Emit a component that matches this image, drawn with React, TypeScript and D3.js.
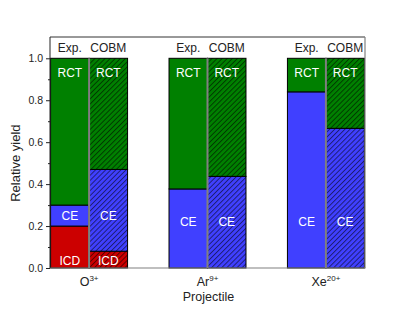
import { useEffect, useRef } from 'react';
import * as d3 from 'd3';

// projectiles and the two bar types
const projectiles = ['O', 'Ar', 'Xe'];
const charges = ['3+', '9+', '20+'];
const barTypes = ['Exp.', 'COBM'];

// channel yields, index follows projectiles
const expICD = [0.2, 0, 0];
const expCE = [0.1, 0.377, 0.84];
const expRCT = [0.7, 0.623, 0.16];
const cobmICD = [0.08, 0, 0];
const cobmCE = [0.39, 0.437, 0.666];
const cobmRCT = [0.53, 0.563, 0.334];

const channels = ['ICD', 'CE', 'RCT'];
const channelColors = ['#cc0000', '#4040ff', '#008000'];

// where the channel names sit (in yield units)
const labelPosICD = [0.035, 0, 0];
const labelPosCE = [0.25, 0.22, 0.22];
const labelPosRCT = [0.93, 0.93, 0.93];

const yTicks = [0, 0.2, 0.4, 0.6, 0.8, 1.0];
const yMinorTicks = [0.1, 0.3, 0.5, 0.7, 0.9];

const App = () => {
  const svgRef = useRef<SVGSVGElement>(null);

  useEffect(() => {
    const svg = d3.select(svgRef.current);
    svg.selectAll('*').remove();

    const width = 415;
    const height = 312;
    const left = 50, right = 365, top = 37, bottom = 268, yTop = 58.3;
    const font = '"Liberation Sans", Arial, sans-serif';

    svg.attr('width', width).attr('height', height).style('font-family', font);

    // hatch pattern for the model bars
    const defs = svg.append('defs');
    defs.append('pattern')
      .attr('id', 'hatch')
      .attr('patternUnits', 'userSpaceOnUse')
      .attr('width', 3.6)
      .attr('height', 3.6)
      .attr('patternTransform', 'rotate(45)')
      .append('line')
      .attr('x1', 0.5).attr('y1', 0).attr('x2', 0.5).attr('y2', 3.6)
      .attr('stroke', '#000')
      .attr('stroke-opacity', 0.75)
      .attr('stroke-width', 0.7);

    const x = d3.scaleBand().domain(projectiles).range([left, right])
      .paddingInner(0.35).paddingOuter(0.005);
    const xSub = d3.scaleBand().domain(barTypes).range([0, x.bandwidth()]);
    const y = d3.scaleLinear().domain([0, 1]).range([bottom, yTop]);

    const stack = d3.stack<number>().keys(['0', '1', '2'])
      .value((i, key) => {
        const k = +key;
        return [[expICD, expCE, expRCT], [cobmICD, cobmCE, cobmRCT]][Math.floor(i / 3)][k][i % 3];
      });
    const series = stack(d3.range(6));
    const labelPos = [labelPosICD, labelPosCE, labelPosRCT];

    const g = svg.append('g');
    series.forEach((s, k) => {
      s.forEach((d, i) => {
        const p = projectiles[i % 3];
        const t = barTypes[Math.floor(i / 3)];
        if (d[1] - d[0] <= 0) return;
        const bx = (x(p) as number) + (xSub(t) as number);
        const bw = xSub.bandwidth();
        g.append('rect')
          .attr('x', bx).attr('y', y(d[1]))
          .attr('width', bw).attr('height', y(d[0]) - y(d[1]))
          .attr('fill', channelColors[k])
          .attr('stroke', '#000').attr('stroke-width', 1);
        if (t === 'COBM') {
          g.append('rect')
            .attr('x', bx).attr('y', y(d[1]))
            .attr('width', bw).attr('height', y(d[0]) - y(d[1]))
            .attr('fill', 'url(#hatch)');
        }
        g.append('text')
          .attr('x', bx + bw / 2)
          .attr('y', y(labelPos[k][i % 3]))
          .attr('dy', '0.36em')
          .attr('text-anchor', 'middle')
          .attr('fill', '#fff')
          .attr('font-size', 12)
          .text(channels[k]);
      });
    });

    // gray separators between paired bars
    projectiles.forEach(p => {
      const sx = (x(p) as number) + (xSub('COBM') as number);
      g.append('line')
        .attr('x1', sx).attr('x2', sx).attr('y1', yTop).attr('y2', bottom)
        .attr('stroke', '#808080').attr('stroke-width', 2);
      barTypes.forEach(t => {
        svg.append('text')
          .attr('x', (x(p) as number) + (xSub(t) as number) + xSub.bandwidth() / 2)
          .attr('y', 51.5)
          .attr('text-anchor', 'middle')
          .attr('font-size', 12)
          .attr('fill', '#222')
          .text(t);
      });
    });

    // frame
    svg.append('line').attr('x1', left).attr('x2', right).attr('y1', top).attr('y2', top)
      .attr('stroke', '#333').attr('stroke-width', 1);
    svg.append('line').attr('x1', right).attr('x2', right).attr('y1', top).attr('y2', bottom)
      .attr('stroke', '#808080').attr('stroke-width', 1.2);
    svg.append('line').attr('x1', left).attr('x2', right + 0.6).attr('y1', bottom).attr('y2', bottom)
      .attr('stroke', '#808080').attr('stroke-width', 1.2);

    const yAxis = svg.append('g')
      .attr('transform', `translate(${left},0)`)
      .call(d3.axisLeft(y).tickValues(yTicks).tickFormat(d3.format('.1f')).tickSize(4).tickPadding(3));
    yAxis.select('.domain').attr('d', `M0,${top}V${bottom}`).attr('stroke', '#222');
    yAxis.selectAll('.tick line').attr('stroke', '#222');
    yAxis.selectAll('.tick text').attr('font-size', 10.5).attr('fill', '#222')
      .attr('font-family', font);

    svg.append('g')
      .attr('transform', `translate(${left},0)`)
      .call(d3.axisLeft(y).tickValues(yMinorTicks).tickFormat(() => '').tickSize(2))
      .call(a => a.select('.domain').remove())
      .selectAll('.tick line').attr('stroke', '#222');

    // category labels with charge superscripts
    projectiles.forEach((p, i) => {
      const t = svg.append('text')
        .attr('x', (x(p) as number) + x.bandwidth() / 2)
        .attr('y', 286)
        .attr('text-anchor', 'middle')
        .attr('font-size', 12.5)
        .attr('fill', '#222');
      t.append('tspan').text(p);
      t.append('tspan').attr('dy', -5).attr('font-size', 8).text(charges[i]);
    });

    svg.append('text')
      .attr('x', (left + right) / 2 + 1)
      .attr('y', 301)
      .attr('text-anchor', 'middle')
      .attr('font-size', 12.5)
      .attr('fill', '#222')
      .text('Projectile');

    svg.append('text')
      .attr('transform', `translate(19.5,${(yTop + bottom) / 2}) rotate(-90)`)
      .attr('text-anchor', 'middle')
      .attr('font-size', 13)
      .attr('fill', '#222')
      .text('Relative yield');
  }, []);

  return <svg ref={svgRef} style={{ position: 'absolute', left: 0, top: 0 }}></svg>;
};

export default App;
